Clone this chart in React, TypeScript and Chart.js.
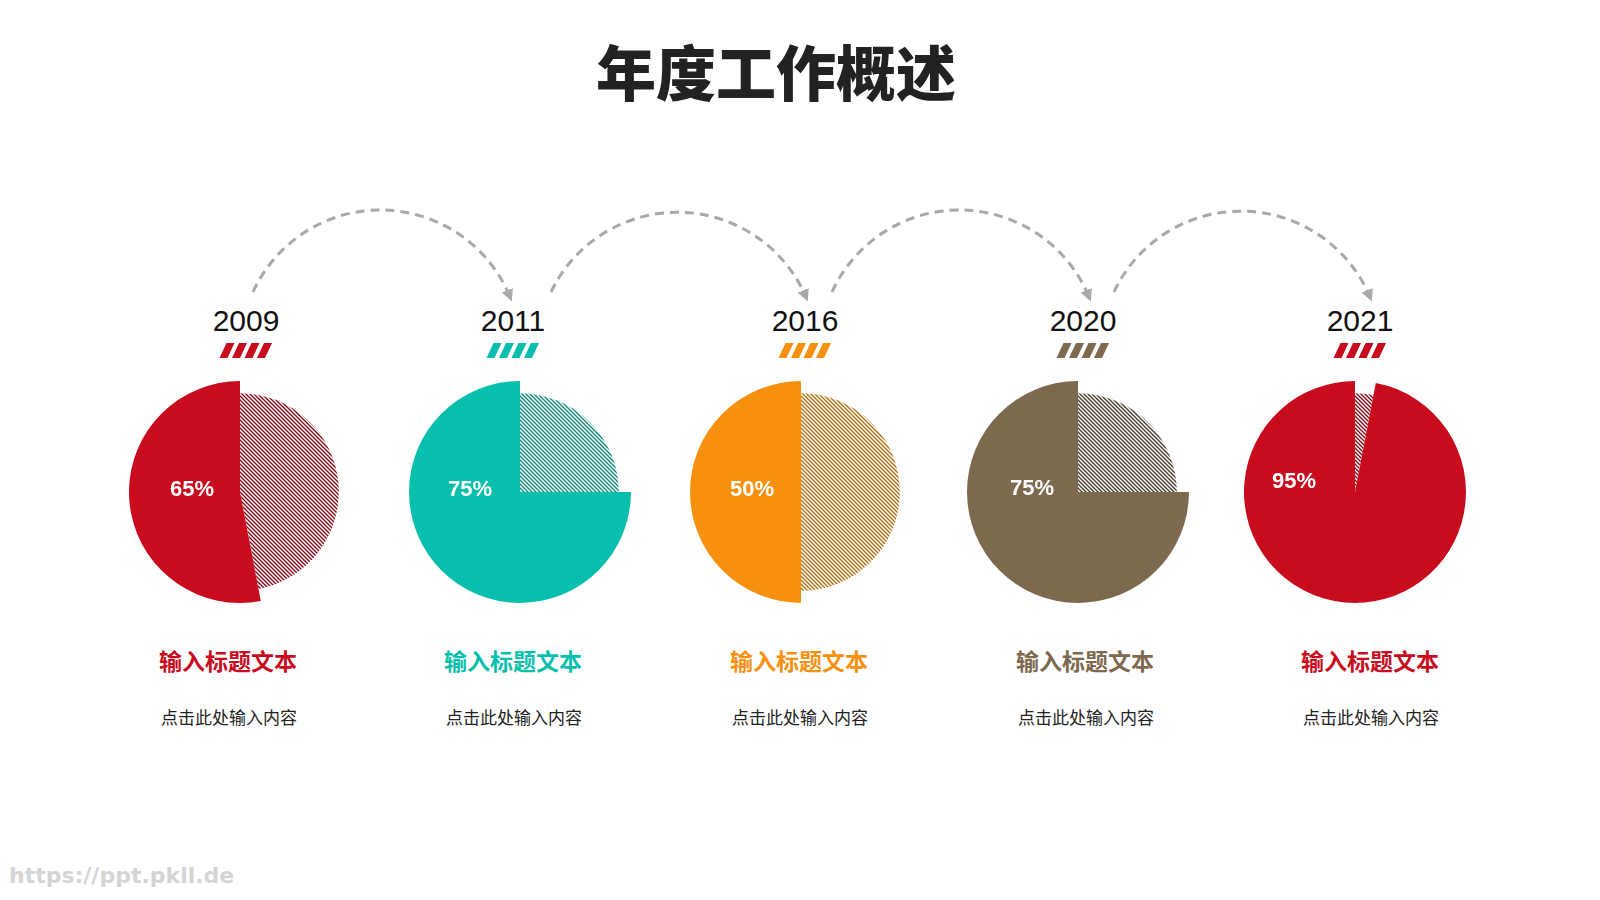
import React, { useEffect, useRef } from "react";
import { Chart, registerables } from "chart.js";

Chart.register(...registerables);

// ---- data ----
const years = ["2009", "2011", "2016", "2020", "2021"];
const percentLabels = ["65%", "75%", "50%", "75%", "95%"];
// share of the solid slice as drawn in the picture
const solidShare = [53, 75, 50, 75, 97];
const titles = ["输入标题文本", "输入标题文本", "输入标题文本", "输入标题文本", "输入标题文本"];
const subtitles = ["点击此处输入内容", "点击此处输入内容", "点击此处输入内容", "点击此处输入内容", "点击此处输入内容"];

// ---- styles / layout ----
const colors = ["#C80C1E", "#08BFAE", "#F7900E", "#7D694E", "#C80C1E"];
const hatchColors = ["#8E0B1A", "#138C80", "#B27318", "#4A3E2E", "#8E0B1A"];
const pieCenters = [240, 520, 801, 1078, 1355];
const yearCenters = [246, 513, 805, 1083, 1360];
const textCenters = [228, 513, 799, 1085, 1370];
const labelShift = [[-48, -2], [-50, -2], [-49, -2], [-46, -3], [-61, -10]];
const arcs = [
  [253, 510],
  [551, 806],
  [832, 1089],
  [1114, 1370],
];
const PIE_Y = 492;
const SIZE = 240;

function makeHatch(color: string) {
  const n = 4;
  const c = document.createElement("canvas");
  c.width = n;
  c.height = n;
  const g = c.getContext("2d")!;
  g.fillStyle = "#ffffff";
  g.fillRect(0, 0, n, n);
  g.strokeStyle = color;
  g.lineWidth = 1.4;
  g.beginPath();
  g.moveTo(-1, -1);
  g.lineTo(n + 1, n + 1);
  g.moveTo(-1, n - 1);
  g.lineTo(1, n + 1);
  g.moveTo(n - 1, -1);
  g.lineTo(n + 1, 1);
  g.stroke();
  return g.createPattern(c, "repeat");
}

function Pie({ idx }: { idx: number }) {
  const ref = useRef<HTMLCanvasElement>(null);
  useEffect(() => {
    const canvas = ref.current!;
    const shrink = {
      id: "shrinkHatch",
      afterDatasetsUpdate(chart: any) {
        const meta = chart.getDatasetMeta(0);
        const r = meta.controller.outerRadius;
        if (meta.data[0]) meta.data[0].outerRadius = r * 0.89;
      },
    };
    const label = {
      id: "pctLabel",
      afterDraw(chart: any) {
        const meta = chart.getDatasetMeta(0);
        const arc = meta.data[1];
        const ctx = chart.ctx;
        ctx.save();
        ctx.font = 'bold 22px "Liberation Sans", Arial, sans-serif';
        ctx.fillStyle = "#ffffff";
        ctx.textAlign = "center";
        ctx.textBaseline = "middle";
        ctx.fillText(percentLabels[idx], arc.x + labelShift[idx][0], arc.y + labelShift[idx][1]);
        ctx.restore();
      },
    };
    const chart = new Chart(canvas, {
      type: "pie",
      data: {
        labels: ["其余", "完成"],
        datasets: [
          {
            data: [100 - solidShare[idx], solidShare[idx]],
            backgroundColor: [makeHatch(hatchColors[idx]) as any, colors[idx]],
            borderWidth: 0,
            hoverOffset: 0,
          },
        ],
      },
      options: {
        responsive: false,
        animation: false,
        events: [],
        layout: { padding: 9 },
        plugins: { legend: { display: false }, tooltip: { enabled: false } },
      },
      plugins: [shrink, label],
    });
    return () => chart.destroy();
  }, [idx]);
  return (
    <canvas
      ref={ref}
      width={SIZE}
      height={SIZE}
      style={{ position: "absolute", left: pieCenters[idx] - SIZE / 2, top: PIE_Y - SIZE / 2, width: SIZE, height: SIZE }}
    />
  );
}

function arcPath(x1: number, x2: number) {
  const y1 = 292;
  const y2 = 297;
  const R = 140;
  return `M ${x1} ${y1} A ${R} ${R} 0 0 1 ${x2} ${y2}`;
}

export default function App() {
  useEffect(() => {
    document.body.style.margin = "0";
  }, []);
  const cjk = '"Noto Sans CJK SC", "Noto Sans", sans-serif';
  return (
    <div style={{ position: "relative", width: 1600, height: 900, background: "#ffffff", overflow: "hidden" }}>
      <div
        style={{
          position: "absolute",
          left: 0,
          width: 1552,
          top: 35,
          textAlign: "center",
          fontFamily: cjk,
          fontWeight: 900,
          fontSize: 60,
          lineHeight: "70px",
          color: "#222222",
        }}
      >
        年度工作概述
      </div>
      <svg width={1600} height={900} style={{ position: "absolute", left: 0, top: 0 }}>
        <defs>
          <marker id="ah" viewBox="0 0 10 10" refX="6" refY="5" markerWidth="4" markerHeight="4" orient="auto" markerUnits="strokeWidth">
            <path d="M0,0 L10,5 L0,10 z" fill="#A9A9A9" />
          </marker>
        </defs>
        {arcs.map(([a, b], i) => (
          <path
            key={i}
            d={arcPath(a, b)}
            fill="none"
            stroke="#A9A9A9"
            strokeWidth={3}
            strokeDasharray="9 6"
            markerEnd="url(#ah)"
          />
        ))}
        {yearCenters.map((cx, i) => {
          const x0 = cx - 26.5;
          const top = 343;
          const bot = 358;
          return (
            <g key={i} fill={colors[i]}>
              {[0, 1, 2, 3].map((k) => {
                const bx = x0 + k * 12.5;
                return <polygon key={k} points={`${bx + 7},${top} ${bx + 15},${top} ${bx + 8},${bot} ${bx},${bot}`} />;
              })}
            </g>
          );
        })}
      </svg>
      {years.map((y, i) => (
        <div
          key={y}
          style={{
            position: "absolute",
            left: yearCenters[i] - 60,
            width: 120,
            top: 303,
            textAlign: "center",
            fontFamily: '"Liberation Sans", Arial, sans-serif',
            fontSize: 30,
            lineHeight: "36px",
            color: "#111111",
          }}
        >
          {y}
        </div>
      ))}
      {years.map((_, i) => (
        <Pie key={i} idx={i} />
      ))}
      {titles.map((t, i) => (
        <div
          key={"t" + i}
          style={{
            position: "absolute",
            left: textCenters[i] - 100,
            width: 200,
            top: 645,
            textAlign: "center",
            fontFamily: cjk,
            fontWeight: 700,
            fontSize: 23,
            lineHeight: "30px",
            color: colors[i],
          }}
        >
          {t}
        </div>
      ))}
      {subtitles.map((t, i) => (
        <div
          key={"s" + i}
          style={{
            position: "absolute",
            left: textCenters[i] + 1 - 100,
            width: 200,
            top: 705,
            textAlign: "center",
            fontFamily: cjk,
            fontSize: 17,
            lineHeight: "24px",
            color: "#222222",
          }}
        >
          {t}
        </div>
      ))}
      <div
        style={{
          position: "absolute",
          left: 9,
          top: 861,
          fontFamily: '"DejaVu Sans", sans-serif',
          fontWeight: 700,
          fontSize: 22,
          lineHeight: "30px",
          color: "#D4D4D4",
        }}
      >
        https://ppt.pkll.de
      </div>
    </div>
  );
}
